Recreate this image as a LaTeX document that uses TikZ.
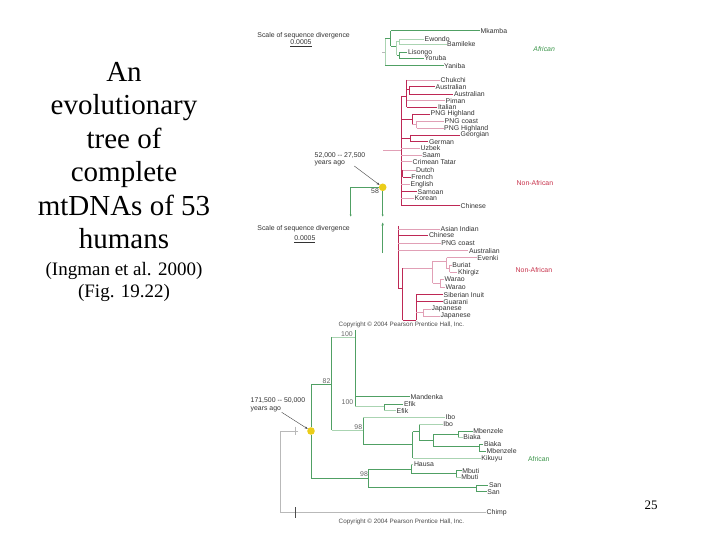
\documentclass[tikz,border=0pt]{standalone}
\usepackage{fontspec}
\setmainfont{Liberation Serif}
\newfontfamily\arialf{Liberation Sans}
\usetikzlibrary{arrows.meta}
\newcommand\labfont{\arialf\fontsize{6.9}{7}\selectfont}
\newcommand\cpfont{\arialf\fontsize{6.3}{7}\selectfont}
\definecolor{gdk}{RGB}{80,160,100}
\definecolor{glt}{RGB}{170,212,178}
\definecolor{rdk}{RGB}{190,40,85}
\definecolor{rlt}{RGB}{225,160,182}
\definecolor{gylin}{RGB}{185,185,185}
\definecolor{dotyel}{RGB}{235,205,25}
\definecolor{afrgreen}{RGB}{60,150,75}
\definecolor{nafred}{RGB}{200,50,75}
\tikzset{
  lab/.style={anchor=west,inner sep=0.5pt,font=\labfont,text=black!80},
  boot/.style={inner sep=0pt,font=\labfont,text=black!60},
  ttl/.style={anchor=base,inner sep=0pt,font=\fontsize{29}{33}\selectfont},
  sub/.style={anchor=base,inner sep=0pt,font=\fontsize{19}{22}\selectfont},
  gd/.style={draw=gdk,line width=0.7pt},
  gl/.style={draw=glt,line width=0.6pt},
  rd/.style={draw=rdk,line width=0.7pt},
  rl/.style={draw=rlt,line width=0.6pt},
  gy/.style={draw=gylin,line width=0.6pt},
  ydot/.style={circle,fill=dotyel,inner sep=0pt,minimum size=7.6pt},
  annarrow/.style={draw=black!75,line width=0.4pt,-{Stealth[length=3pt,width=2.2pt]}},
}
\begin{document}
\begin{tikzpicture}[x=1pt,y=-1pt]
\useasboundingbox[fill=white] (0,0) rectangle (720,540);

% ---- left title ----
\node[ttl] (t1) at (124,81.7) {An};
\node[ttl] (t2) at (124,115) {evolutionary};
\node[ttl] (t3) at (124,148.3) {tree of};
\node[ttl] (t4) at (124,181.7) {complete};
\node[ttl] (t5) at (124,215) {mtDNAs of 53};
\node[ttl] (t6) at (124,248.3) {humans};
\node[sub] (s1) at (124,275) {(Ingman et al. 2000)};
\node[sub] (s2) at (124,297) {(Fig. 19.22)};
\node[inner sep=0pt,font=\fontsize{13}{15}\selectfont] (pg) at (651,505) {25};

% ---- top African panel ----
\node[lab,anchor=west] (sc1) at (256.7,35.7) {Scale of sequence divergence};
\node[lab,anchor=center] (sv1) at (301,43.5) {\underline{0.0005}};
\node[lab] (mk) at (480,30.7) {Mkamba};
\node[lab] (ew) at (424,39) {Ewondo};
\node[lab] (bm) at (446.5,44.3) {Bamileke};
\node[lab] (li) at (407.3,52.3) {Lisongo};
\node[lab] (yo) at (424,58) {Yoruba};
\node[lab] (ya) at (443.5,65.7) {Yaniba};
\node[lab,text=afrgreen,font=\labfont\itshape] (afr1) at (532.7,49.3) {African};

\draw[gl,line width=0.4pt] (385,38.3) -- (385,65.7);
\draw[gy] (382,52.3) -- (384.5,52.3);
\draw[gd] (385,38.3) -- (390.7,38.3);
\draw[gd] (390.7,30.7) -- (390.7,46);
\draw[gd] (390.7,30.7) -- (mk.west);
\draw[gd] (390.7,46) -- (396.7,46);
\draw[gl] (396.7,41.5) -- (396.7,55.3);
\draw[gl] (396.7,41.5) -- (399.3,41.5);
\draw[gl] (399.3,39) -- (399.3,44.3);
\draw[gl] (399.3,39) -- (ew.west);
\draw[gl] (399.3,44.3) -- (bm.west);
\draw[gd] (396.7,55.3) -- (399.3,55.3);
\draw[gd] (399.3,52.3) -- (399.3,58);
\draw[gd] (399.3,52.3) -- (li.west);
\draw[gd] (399.3,58) -- (yo.west);
\draw[gd] (385,65.7) -- (ya.west);

% ---- first non-African panel ----
\node[lab] (ch) at (440,80) {Chukchi};
\node[lab] (au1) at (435,86.7) {Australian};
\node[lab] (au2) at (453.3,94) {Australian};
\node[lab] (pi) at (445,100.7) {Piman};
\node[lab] (it) at (437.3,107.3) {Italian};
\node[lab] (pg1) at (430,114) {PNG Highland};
\node[lab] (pc1) at (444,121) {PNG coast};
\node[lab] (pg2) at (443.5,128.3) {PNG Highland};
\node[lab] (ge) at (460,135) {Georgian};
\node[lab] (gm) at (428.3,141.7) {German};
\node[lab] (uz) at (420,148.3) {Uzbek};
\node[lab] (sa) at (421.7,155) {Saam};
\node[lab] (ct) at (412,161.7) {Crimean Tatar};
\node[lab] (du) at (415.5,170) {Dutch};
\node[lab] (fr) at (410.7,177) {French};
\node[lab] (en) at (410,184.3) {English};
\node[lab] (sm) at (417,191.7) {Samoan};
\node[lab] (ko) at (414,198.3) {Korean};
\node[lab] (cn) at (460,205.7) {Chinese};
\node[lab,text=nafred] (na1) at (516,183.5) {Non-African};

\draw[rd] (401,96) -- (401,205.7);
\draw[rl] (383,150) -- (401,150);
\draw[rd] (401,96) -- (406.5,96);
\draw[rd] (406.5,80) -- (406.5,107.3);
\draw[rl] (406.5,80) -- (ch.west);
\draw[rd] (406.5,89) -- (409,89);
\draw[rd] (409,86.7) -- (409,94);
\draw[rd] (409,86.7) -- (au1.west);
\draw[rd] (409,94) -- (au2.west);
\draw[rl] (406.5,100.7) -- (pi.west);
\draw[rd] (406.5,107.3) -- (it.west);
\draw[rd] (401,119.5) -- (412.3,119.5);
\draw[rd] (412.3,114) -- (412.3,124.7);
\draw[rd] (412.3,114) -- (pg1.west);
\draw[rl] (412.3,124.7) -- (416.7,124.7);
\draw[rl] (416.7,121) -- (416.7,128.3);
\draw[rl] (416.7,121) -- (pc1.west);
\draw[rl] (416.7,128.3) -- (pg2.west);
\draw[rd] (401,138.3) -- (410,138.3);
\draw[rd] (410,135) -- (410,141.7);
\draw[rd] (410,135) -- (ge.west);
\draw[rd] (410,141.7) -- (gm.west);
\draw[rl] (401,148.3) -- (uz.west);
\draw[rl] (401,155) -- (sa.west);
\draw[rl] (401,161.7) -- (ct.west);
\draw[rd] (401,173.5) -- (402.7,173.5);
\draw[rd] (402.7,170) -- (402.7,177);
\draw[rl] (402.7,170) -- (du.west);
\draw[rd] (402.7,177) -- (fr.west);
\draw[rl] (401,184.3) -- (en.west);
\draw[rd] (401,191.7) -- (sm.west);
\draw[rl] (401,198.3) -- (ko.west);
\draw[rd] (401,205.7) -- (cn.west);

% annotation 1
\node[lab] (y1a) at (314,156) {52,000 -- 27,500};
\node[lab] (y1b) at (314,163.3) {years ago};
\node[ydot] (d1) at (382.7,187.3) {};
\node[boot,text=black!75] (n58) at (375,191) {58};
\coordinate (a1s) at (354.3,166);
\draw[annarrow] (a1s) -- (d1);
\coordinate (c1) at (350.7,216.5);
\coordinate (c1a) at (350.7,187.3);
\coordinate (c2) at (382.7,216.5);
\draw[gd,-{Stealth[length=2pt,width=2pt]}] (d1) -- (c1a) -- (c1);
\draw[gd,-{Stealth[length=2pt,width=2pt]}] (d1) -- (c2);
\coordinate (ga1) at (382.7,253);
\coordinate (ga2) at (382.7,222.5);
\draw[gd,-{Stealth[length=3pt,width=2.4pt]}] (ga1) -- (ga2);

% ---- second non-African panel ----
\node[lab,anchor=west] (sc2) at (256.7,228.3) {Scale of sequence divergence};
\node[lab,anchor=center] (sv2) at (304.8,239.5) {\underline{0.0005}};
\node[lab] (ai) at (440,229) {Asian Indian};
\node[lab] (cn2) at (428.3,235) {Chinese};
\node[lab] (pc2) at (440.7,243.3) {PNG coast};
\node[lab] (au3) at (468.3,250.7) {Australian};
\node[lab] (ev) at (476.7,257.7) {Evenki};
\node[lab] (bu) at (451.7,265) {Buriat};
\node[lab] (kh) at (457.3,272.3) {Khirgiz};
\node[lab] (wa1) at (444,279.3) {Warao};
\node[lab] (wa2) at (445,287.3) {Warao};
\node[lab] (si) at (443,294.7) {Siberian Inuit};
\node[lab] (gu) at (442.7,301.7) {Guarani};
\node[lab] (jp1) at (431,309.3) {Japanese};
\node[lab] (jp2) at (440,316) {Japanese};
\node[lab,text=nafred] (na2) at (515,270) {Non-African};

\draw[rd,line width=1.1pt] (398.3,226) -- (398.3,288);
\draw[rl] (398.3,229) -- (ai.west);
\draw[rd] (398.3,235) -- (cn2.west);
\draw[rl] (398.3,243.3) -- (pc2.west);
\draw[rl] (398.3,250.7) -- (au3.west);
\draw[rd] (398.3,288) -- (402.7,288);
\draw[rd] (402.7,268) -- (402.7,320);
\draw[rl] (402.7,268) -- (432.7,268);
\draw[rl] (432.7,261) -- (432.7,283.3);
\draw[rl] (432.7,261) -- (446.7,261);
\draw[rl] (446.7,257.7) -- (446.7,268.6);
\draw[rl] (446.7,257.7) -- (ev.west);
\draw[rl] (446.7,268.6) -- (449.5,268.6);
\draw[rl] (449.5,265) -- (449.5,272.3);
\draw[rl] (449.5,265) -- (bu.west);
\draw[rl] (449.5,272.3) -- (kh.west);
\draw[rl] (432.7,283.3) -- (440,283.3);
\draw[rl] (440,279.3) -- (440,287.3);
\draw[rl] (440,279.3) -- (wa1.west);
\draw[rl] (440,287.3) -- (wa2.west);
\draw[rd] (402.7,320) -- (416,320);
\draw[rd] (416,294.7) -- (416,320);
\draw[rd] (416,294.7) -- (si.west);
\draw[rd] (416,301.7) -- (gu.west);
\draw[rl] (416,312.7) -- (423.3,312.7);
\draw[rl] (423.3,309.3) -- (423.3,316);
\draw[rl] (423.3,309.3) -- (jp1.west);
\draw[rl] (423.3,316) -- (jp2.west);

\node[lab,font=\cpfont,text=black!70] (cp1) at (338,324.5) {Copyright \textcopyright{} 2004 Pearson Prentice Hall, Inc.};

% ---- lower African panel ----
\node[lab] (md) at (410,396.7) {Mandenka};
\node[lab] (ef1) at (403.3,404) {Efik};
\node[lab] (ef2) at (396,410.7) {Efik};
\node[lab] (ib1) at (445,417.3) {Ibo};
\node[lab] (ib2) at (442.7,424) {Ibo};
\node[lab] (mb1) at (472.7,431) {Mbenzele};
\node[lab] (bi1) at (462.7,437.3) {Biaka};
\node[lab] (bi2) at (483.3,444.3) {Biaka};
\node[lab] (mb2) at (486,451) {Mbenzele};
\node[lab] (ki) at (480.7,458.3) {Kikuyu};
\node[lab] (ha) at (413.3,464.3) {Hausa};
\node[lab] (mu1) at (461.7,470.7) {Mbuti};
\node[lab] (mu2) at (460.7,477.3) {Mbuti};
\node[lab] (sn1) at (488.3,485) {San};
\node[lab] (sn2) at (486.7,491.7) {San};
\node[lab] (chp) at (486,512.7) {Chimp};
\node[lab,text=afrgreen] (afr2) at (527.3,459) {African};

\node[boot] (b100a) at (347,334.3) {100};
\node[boot] (b82) at (326.5,380.7) {82};
\node[boot] (b100b) at (347.5,401.7) {100};
\node[boot] (b98a) at (358.3,427.5) {98};
\node[boot] (b98b) at (364,474) {98};

\node[lab] (y2a) at (250,400.7) {171,500 -- 50,000};
\node[lab] (y2b) at (250,409) {years ago};
\node[ydot] (d2) at (311,431) {};
\coordinate (a2s) at (281.7,412.3);
\draw[annarrow] (a2s) -- (d2);

\draw[gd] (311,384.3) -- (d2.north);
\draw[gd] (d2.south) -- (311,478.3);
\draw[gd] (311,384.3) -- (331.7,384.3);
\draw[gd] (331.7,337.3) -- (331.7,430);
\draw[gl] (331.7,337.3) -- (355,337.3);
\draw[gd] (355,330) -- (355,406.7);
\draw[gd] (355,396.7) -- (md.west);
\draw[gl] (355,406.7) -- (384.3,406.7);
\draw[gd] (384.3,404) -- (384.3,410.7);
\draw[gd] (384.3,404) -- (ef1.west);
\draw[gl] (384.3,410.7) -- (ef2.west);
\draw[gl] (331.7,430) -- (363.3,430);
\draw[gd] (363.3,417.3) -- (363.3,444.3);
\draw[gl] (363.3,417.3) -- (ib1.west);
\draw[gd] (363.3,444.3) -- (412.7,444.3);
\draw[gd] (412.7,431.7) -- (412.7,458.3);
\draw[gd] (412.7,431.7) -- (419,431.7);
\draw[gd] (419,424) -- (419,440);
\draw[gl] (419,424) -- (ib2.west);
\draw[gd] (419,440) -- (433.3,440);
\draw[gd] (433.3,434) -- (433.3,446.7);
\draw[gd] (433.3,434) -- (458.3,434);
\draw[gd] (458.3,431) -- (458.3,437.3);
\draw[gd] (458.3,431) -- (mb1.west);
\draw[gl] (458.3,437.3) -- (bi1.west);
\draw[gd] (433.3,446.7) -- (479.3,446.7);
\draw[gd] (479.3,444.3) -- (479.3,451);
\draw[gd] (479.3,444.3) -- (bi2.west);
\draw[gd] (479.3,451) -- (mb2.west);
\draw[gl] (412.7,458.3) -- (ki.west);
\draw[gd] (311,478.3) -- (368.3,478.3);
\draw[gd] (368.3,469.3) -- (368.3,487.3);
\draw[gd] (368.3,469.3) -- (411,469.3);
\draw[gd] (411,464.3) -- (411,473.3);
\draw[gl] (411,464.3) -- (ha.west);
\draw[gd] (411,473.3) -- (456,473.3);
\draw[gd] (456,470.7) -- (456,477.3);
\draw[gd] (456,470.7) -- (mu1.west);
\draw[gl] (456,477.3) -- (mu2.west);
\draw[gd] (368.3,487.3) -- (476.7,487.3);
\draw[gd] (476.7,485) -- (476.7,491.7);
\draw[gd] (476.7,485) -- (sn1.west);
\draw[gd] (476.7,491.7) -- (sn2.west);

\coordinate (gt) at (298,431);
\draw[gy] (gt) -- (280.7,431) -- (280.7,512.7);
\draw[gy] (280.7,512.7) -- (chp.west);
\draw[gy] (295,426.7) -- (295,435);
\draw[draw=black!70,line width=0.6pt] (295,507.3) -- (295,518.3);

\node[lab,font=\cpfont,text=black!70] (cp2) at (338,521.7) {Copyright \textcopyright{} 2004 Pearson Prentice Hall, Inc.};
\end{tikzpicture}
\end{document}
